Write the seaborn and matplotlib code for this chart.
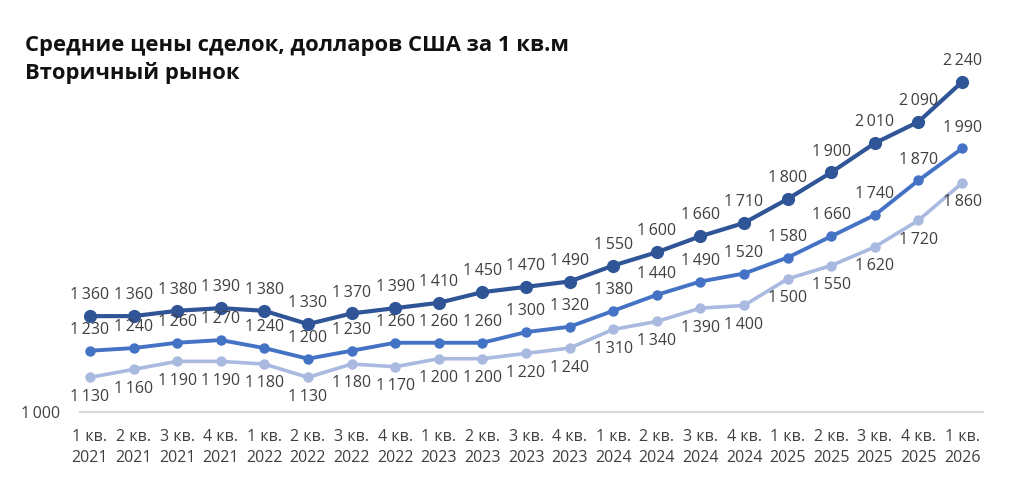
import matplotlib
matplotlib.use("Agg")
import matplotlib.pyplot as plt
import seaborn as sns
import numpy as np

quarters = ["1 кв.\n2021", "2 кв.\n2021", "3 кв.\n2021", "4 кв.\n2021",
            "1 кв.\n2022", "2 кв.\n2022", "3 кв.\n2022", "4 кв.\n2022",
            "1 кв.\n2023", "2 кв.\n2023", "3 кв.\n2023", "4 кв.\n2023",
            "1 кв.\n2024", "2 кв.\n2024", "3 кв.\n2024", "4 кв.\n2024",
            "1 кв.\n2025", "2 кв.\n2025", "3 кв.\n2025", "4 кв.\n2025",
            "1 кв.\n2026"]
series_top = [1360, 1360, 1380, 1390, 1380, 1330, 1370, 1390, 1410, 1450, 1470,
              1490, 1550, 1600, 1660, 1710, 1800, 1900, 2010, 2090, 2240]
series_mid = [1230, 1240, 1260, 1270, 1240, 1200, 1230, 1260, 1260, 1260, 1300,
              1320, 1380, 1440, 1490, 1520, 1580, 1660, 1740, 1870, 1990]
series_low = [1130, 1160, 1190, 1190, 1180, 1130, 1180, 1170, 1200, 1200, 1220,
              1240, 1310, 1340, 1390, 1400, 1500, 1550, 1620, 1720, 1860]

sns.set_theme(style="white")
plt.rcParams['font.family'] = ['Open Sans', 'DejaVu Sans']

fig = plt.figure(figsize=(10.24, 5.03), dpi=100)
ax = fig.add_axes([0.078, 0.181, 0.882, 0.688])

x = np.arange(len(quarters))
txt_color = "#404040"
SP = "\u2009"

def fmt(v):
    return f"{v:,}".replace(",", SP)

specs = [
    (series_low, "#A9B9E0", 2.6, 7.5, -14),
    (series_mid, "#4472C4", 2.8, 7.5, 15),
    (series_top, "#2F5597", 3.0, 9.5, 15),
]
for vals, col, lw, ms, off in specs:
    sns.lineplot(x=x, y=vals, ax=ax, color=col, linewidth=lw, marker="o",
                 markersize=ms, markeredgewidth=0, markeredgecolor=col)
    for xi, v in zip(x, vals):
        ax.annotate(fmt(v), (xi, v), xytext=(0, off), textcoords="offset points",
                    ha="center", va="center", fontsize=11.5, color=txt_color)

ax.set_xlim(-0.23, 20.48)
ax.set_ylim(1000, 2300)
ax.set_xticks(x)
ax.set_xticklabels(quarters, fontsize=11.5, color=txt_color, linespacing=1.45)
ax.set_yticks([1000])
ax.set_yticklabels(["1" + SP + "000"], fontsize=11.5, color=txt_color)
ax.tick_params(axis="both", length=0)
ax.tick_params(axis="x", pad=12)
ax.tick_params(axis="y", pad=14)
for s in ["top", "right", "left"]:
    ax.spines[s].set_visible(False)
ax.spines["bottom"].set_color("#D9D9D9")
ax.spines["bottom"].set_linewidth(1.5)
ax.set_xlabel("")
ax.set_ylabel("")

fig.text(0.024, 0.91, "Средние цены сделок, долларов США за 1 кв.м",
         fontsize=15.8, fontweight="bold", color="#111111", va="center")
fig.text(0.024, 0.855, "Вторичный рынок",
         fontsize=15.8, fontweight="bold", color="#111111", va="center")

fig.savefig("out.png", dpi=100, facecolor="white")
